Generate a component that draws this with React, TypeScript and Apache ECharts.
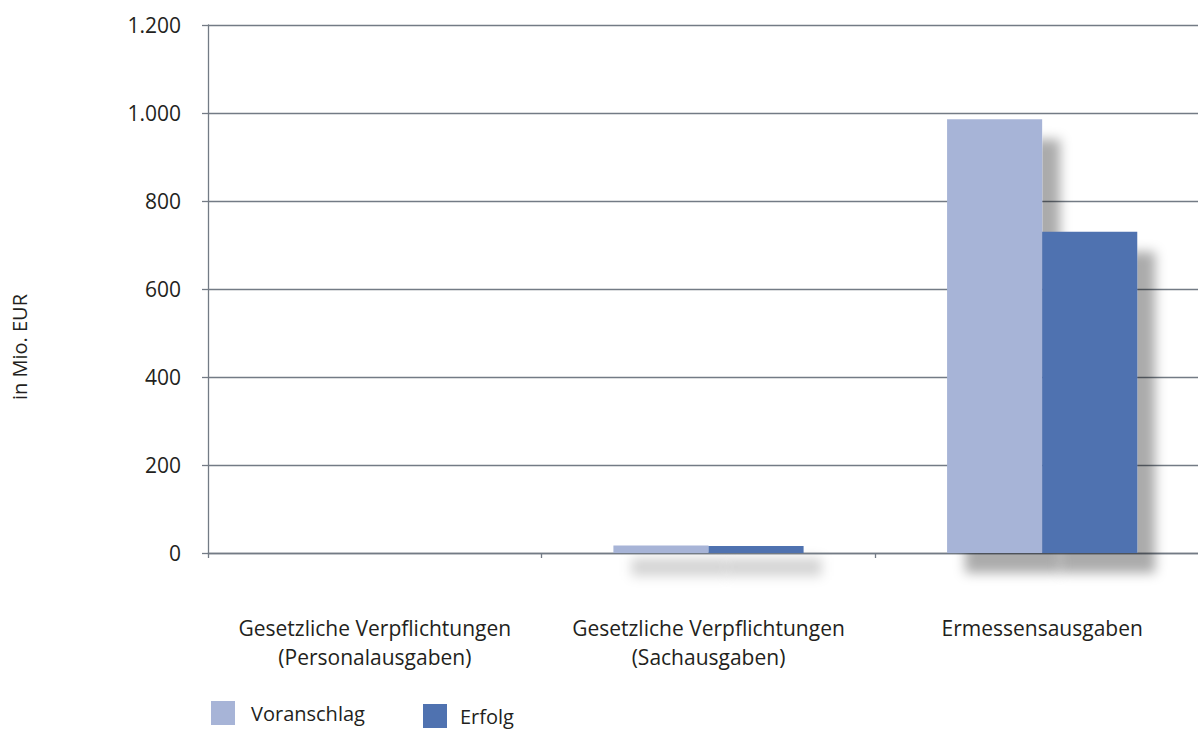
import React, { useEffect, useRef } from "react";
import * as echarts from "echarts";

const categories = [
  "Gesetzliche Verpflichtungen\n(Personalausgaben)",
  "Gesetzliche Verpflichtungen\n(Sachausgaben)",
  "Ermessensausgaben",
];
const voranschlag = [0, 17, 986];
const erfolg = [0, 16, 730];
const seriesNames = ["Voranschlag", "Erfolg"];
const seriesColors = ["#a7b4d7", "#4f72b0"];
const yAxisTitle = "in Mio. EUR";

const FONT = "'Open Sans', 'Noto Sans', sans-serif";
const TEXT = "#231f20";
const LINE = "#737b85";
const CAT_GAP = 0.43;
const SHADOW_DX = 18;
const shadow = {
  shadowColor: "rgba(0,0,0,0.33)",
  shadowBlur: 12,
  shadowOffsetX: SHADOW_DX,
  shadowOffsetY: 20,
};
const SMALL = 100; // values below this get a drawn soft shadow band instead

function withShadows(values: number[], color: string) {
  return values.map((v) => ({
    value: v,
    itemStyle: v < SMALL ? { color } : { color, ...shadow },
  }));
}

const titleGraphic = {
  type: "text",
  x: 19,
  y: 347,
  rotation: Math.PI / 2,
  style: {
    text: yAxisTitle,
    fontSize: 20,
    fill: TEXT,
    fontFamily: FONT,
    align: "center",
    verticalAlign: "middle",
  },
};

export default function App() {
  const ref = useRef<HTMLDivElement>(null);
  useEffect(() => {
    if (!ref.current) return;
    const chart = echarts.init(ref.current, undefined, { renderer: "svg" });
    chart.setOption({
      animation: false,
      textStyle: { fontFamily: FONT },
      grid: { left: 208, top: 25, width: 1001, height: 528, containLabel: false },
      legend: [
        {
          data: [seriesNames[0]],
          left: 206,
          top: 696,
          itemWidth: 24,
          itemHeight: 24,
          icon: "rect",
          textStyle: { fontSize: 20, color: TEXT, fontFamily: FONT, padding: [6, 0, 0, 11] },
        },
        {
          data: [seriesNames[1]],
          left: 418,
          top: 699,
          itemWidth: 24,
          itemHeight: 24,
          icon: "rect",
          textStyle: { fontSize: 20, color: TEXT, fontFamily: FONT, padding: [6, 0, 0, 8] },
        },
      ],
      xAxis: {
        type: "category",
        data: categories,
        axisLine: { lineStyle: { color: LINE, width: 1.3 } },
        axisTick: { show: true, length: 5, lineStyle: { color: LINE, width: 1.3 } },
        axisLabel: {
          margin: 60,
          fontSize: 21,
          lineHeight: 29,
          color: TEXT,
          fontFamily: FONT,
          interval: 0,
        },
      },
      yAxis: {
        type: "value",
        min: 0,
        max: 1200,
        interval: 200,
        axisLine: { show: true, lineStyle: { color: LINE, width: 1.3 } },
        axisTick: { show: true, length: 6, lineStyle: { color: LINE, width: 1.3 } },
        splitLine: { lineStyle: { color: LINE, width: 1.3 } },
        axisLabel: {
          margin: 27,
          fontSize: 21,
          color: TEXT,
          fontFamily: FONT,
          formatter: (v: number) => String(v).replace(/\B(?=(\d{3})+(?!\d))/g, "."),
        },
      },
      graphic: [titleGraphic],
      series: [
        {
          name: seriesNames[0],
          type: "bar",
          data: withShadows(voranschlag, seriesColors[0]),
          barGap: "0%",
          barCategoryGap: CAT_GAP * 100 + "%",
          itemStyle: { color: seriesColors[0] },
        },
        {
          name: seriesNames[1],
          type: "bar",
          data: withShadows(erfolg, seriesColors[1]),
          barGap: "0%",
          barCategoryGap: CAT_GAP * 100 + "%",
          itemStyle: { color: seriesColors[1] },
        },
      ],
    });

    // soft shadow bands under very short bars, placed via the axes
    const c0 = chart.convertToPixel({ xAxisIndex: 0 }, 0) as number;
    const c1 = chart.convertToPixel({ xAxisIndex: 0 }, 1) as number;
    const band = c1 - c0;
    const barW = (band * (1 - CAT_GAP)) / 2;
    const y0 = chart.convertToPixel({ yAxisIndex: 0 }, 0) as number;
    const pad = 24;
    const h = 18;
    const svg =
      `<svg xmlns='http://www.w3.org/2000/svg' width='${barW + 2 * pad}' height='${h + 2 * pad}'>` +
      `<filter id='b' x='-50%' y='-100%' width='200%' height='300%'><feGaussianBlur stdDeviation='6'/></filter>` +
      `<rect x='${pad}' y='${pad}' width='${barW}' height='${h}' fill='rgb(0,0,0)' fill-opacity='0.17' filter='url(#b)'/></svg>`;
    const img = "data:image/svg+xml;charset=utf-8," + encodeURIComponent(svg);
    const extra: any[] = [];
    [voranschlag, erfolg].forEach((vals, si) => {
      vals.forEach((v, ci) => {
        if (v > 0 && v < SMALL) {
          const cx = chart.convertToPixel({ xAxisIndex: 0 }, ci) as number;
          const left = cx - barW + si * barW;
          extra.push({
            type: "image",
            z: -1,
            silent: true,
            style: {
              image: img,
              x: left + SHADOW_DX - pad,
              y: y0 + 5 - pad,
              width: barW + 2 * pad,
              height: h + 2 * pad,
            },
          });
        }
      });
    });
    chart.setOption({ graphic: [titleGraphic, ...extra] });
    return () => chart.dispose();
  }, []);
  return (
    <div
      style={{
        position: "absolute",
        left: 0,
        top: 0,
        width: 1198,
        height: 730,
        overflow: "hidden",
      }}
    >
      <div ref={ref} style={{ width: 1230, height: 730 }} />
    </div>
  );
}
